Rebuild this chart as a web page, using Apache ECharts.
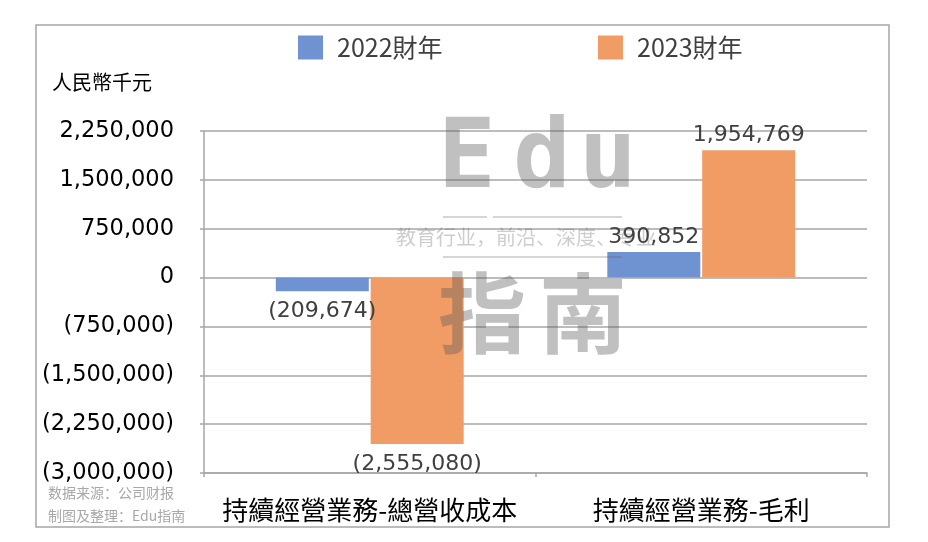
<!DOCTYPE html>
<html><head><meta charset="utf-8">
<script src="https://cdn.jsdelivr.net/npm/echarts@6/dist/echarts.min.js"></script>
<style>html,body{margin:0;padding:0;background:#fff}#c{width:928px;height:542px}</style>
</head><body><div id="c"></div>
<script>
const categories = ['持續經營業務-總營收成本', '持續經營業務-毛利'];
const seriesNames = ['2022財年', '2023財年'];
const values2022 = [-209674, 390852];
const values2023 = [-2555080, 1954769];
const yMin = -3000000, yMax = 2250000, yStep = 750000;

const NUM = '"DejaVu Sans", "Noto Sans CJK TC", sans-serif';
const CJK = '"Noto Sans CJK TC", sans-serif';
function fmt(v) {
  const s = Math.abs(v).toLocaleString('en-US');
  return v < 0 ? '(' + s + ')' : s;
}
function mkData(arr) {
  return arr.map(v => ({ value: v, label: { position: v < 0 ? 'bottom' : 'top', distance: v < 0 ? 9 : 4 } }));
}
const chart = echarts.init(document.getElementById('c'), null, { renderer: 'canvas' });
const wmColor = 'rgba(90,90,90,0.38)';
const legendText = { fontFamily: CJK, fontSize: 25, color: '#404040', padding: [0, 0, 0, 9] };
chart.setOption({
  animation: false,
  color: ['#6F93D1', '#F19C64'],
  legend: [
    { data: [seriesNames[0]], left: 293, top: 30, itemWidth: 25, itemHeight: 24, icon: 'rect', textStyle: legendText },
    { data: [seriesNames[1]], left: 593, top: 30, itemWidth: 25, itemHeight: 24, icon: 'rect', textStyle: legendText }
  ],
  grid: { left: 204, right: 61, top: 131, bottom: 69, containLabel: false },
  xAxis: {
    type: 'category', data: categories,
    axisLine: { onZero: false, lineStyle: { color: '#a6a6a6', width: 1.5 } },
    axisTick: { show: true, length: 4, lineStyle: { color: '#a6a6a6', width: 1.5 } },
    axisLabel: { fontFamily: CJK, fontSize: 26, color: '#000', margin: 24, interval: 0, hideOverlap: false }
  },
  yAxis: {
    type: 'value', min: yMin, max: yMax, interval: yStep,
    axisLine: { show: true, lineStyle: { color: '#a6a6a6', width: 1.5 } },
    axisTick: { show: true, length: 4, lineStyle: { color: '#a6a6a6', width: 1.5 } },
    splitLine: { lineStyle: { color: '#a6a6a6', width: 1.5 } },
    axisLabel: { fontFamily: NUM, fontSize: 22.5, color: '#000', margin: 30, formatter: v => v === 0 ? '0' : fmt(v) }
  },
  series: [
    { name: seriesNames[0], type: 'bar', data: mkData(values2022), barWidth: 93, barGap: '2%',
      label: { show: true, fontFamily: NUM, fontSize: 22, color: '#404040', formatter: p => fmt(p.value) } },
    { name: seriesNames[1], type: 'bar', data: mkData(values2023), barWidth: 93, barGap: '2%',
      label: { show: true, fontFamily: NUM, fontSize: 22, color: '#404040', formatter: p => fmt(p.value) } }
  ],
  graphic: [
    { type: 'rect', shape: { x: 36, y: 25, width: 853, height: 502 }, style: { fill: 'none', stroke: '#a6a6a6', lineWidth: 1.5 }, z: -1 },
    { type: 'text', left: 52, top: 72, style: { text: '人民幣千元', font: '20px "Noto Sans CJK TC"', fill: '#000' } },
    { type: 'text', left: 48, top: 486, style: { text: '数据来源：公司财报', font: '14px "Noto Sans CJK SC"', fill: '#a8a8a8' } },
    { type: 'text', left: 48, top: 509, style: { text: '制图及整理：Edu指南', font: '14px "Noto Sans CJK SC"', fill: '#a8a8a8' } },
    // watermark
    { type: 'text', x: 467, y: 162, z: 100, style: { text: 'E', font: 'bold 96px "DejaVu Sans Mono"', fill: wmColor, align: 'center', verticalAlign: 'middle' } },
    { type: 'text', x: 542, y: 162, z: 100, style: { text: 'd', font: 'bold 96px "DejaVu Sans Mono"', fill: wmColor, align: 'center', verticalAlign: 'middle' } },
    { type: 'text', x: 608, y: 162, z: 100, style: { text: 'u', font: 'bold 96px "DejaVu Sans Mono"', fill: wmColor, align: 'center', verticalAlign: 'middle' } },
    { type: 'line', z: 100, shape: { x1: 443, y1: 217, x2: 487, y2: 217 }, style: { stroke: 'rgba(90,90,90,0.25)', lineWidth: 2 } },
    { type: 'line', z: 100, shape: { x1: 493, y1: 217, x2: 622, y2: 217 }, style: { stroke: 'rgba(90,90,90,0.25)', lineWidth: 2 } },
    { type: 'line', z: 100, shape: { x1: 443, y1: 257, x2: 622, y2: 257 }, style: { stroke: 'rgba(90,90,90,0.25)', lineWidth: 2 } },
    { type: 'text', x: 396, y: 237, z: 100, style: { text: '教育行业，前沿、深度、专业', font: '20px "Noto Sans CJK SC"', fill: 'rgba(90,90,90,0.3)', align: 'left', verticalAlign: 'middle' } },
    { type: 'text', x: 482, y: 313, z: 100, style: { text: '指', font: 'bold 88px "Noto Sans CJK SC"', fill: wmColor, align: 'center', verticalAlign: 'middle' } },
    { type: 'text', x: 583, y: 313, z: 100, style: { text: '南', font: 'bold 88px "Noto Sans CJK SC"', fill: wmColor, align: 'center', verticalAlign: 'middle' } }
  ]
});
</script></body></html>
